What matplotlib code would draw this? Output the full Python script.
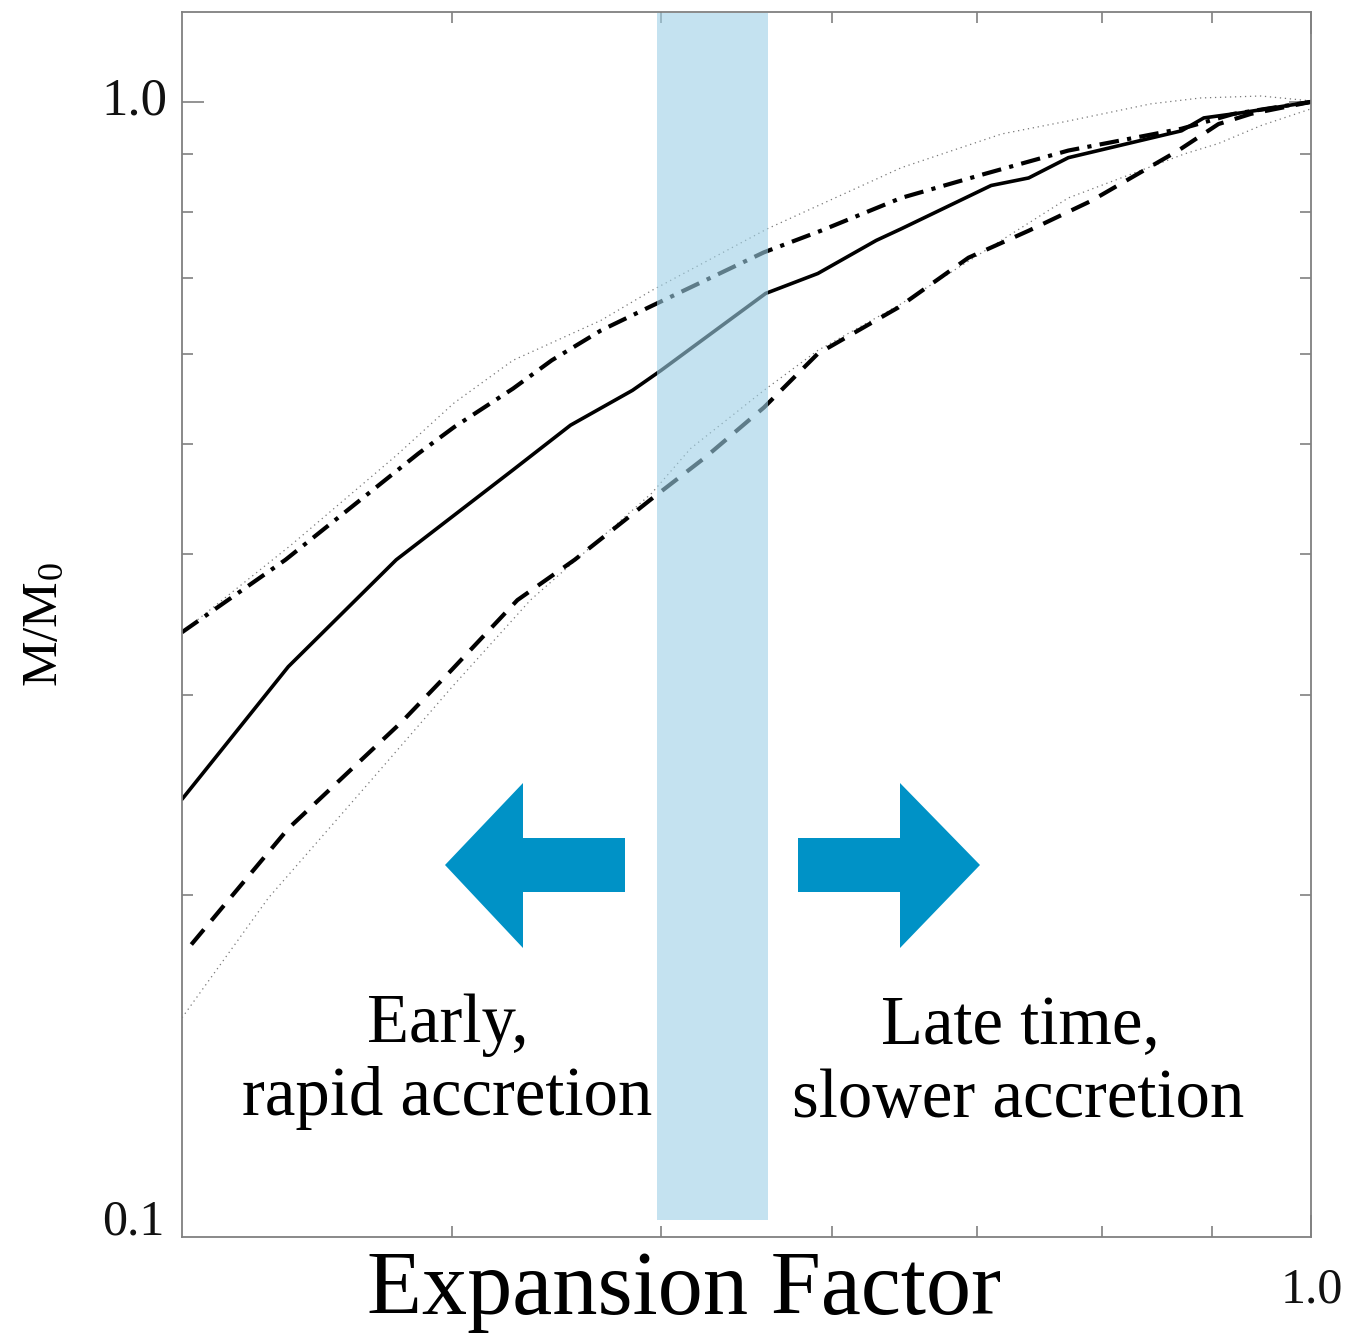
import numpy as np
import matplotlib
matplotlib.use("Agg")
import matplotlib.pyplot as plt
from matplotlib.patches import Polygon, Rectangle
from matplotlib.ticker import FixedLocator, NullFormatter

plt.rcParams['font.family'] = ['Liberation Serif', 'DejaVu Serif']
plt.rcParams['mathtext.fontset'] = 'custom'
plt.rcParams['mathtext.rm'] = 'Liberation Serif'
plt.rcParams['mathtext.it'] = 'Liberation Serif:italic'

# ---- data (expansion factor a, M/M0) ----
solid_a = [0.300, 0.336, 0.377, 0.427, 0.454, 0.485, 0.500, 0.559, 0.591, 0.629, 0.646,
           0.711, 0.740, 0.772, 0.871, 0.892, 0.928, 1.000]
solid_m = [0.243, 0.318, 0.395, 0.474, 0.519, 0.557, 0.580, 0.678, 0.706, 0.755, 0.773,
           0.844, 0.857, 0.893, 0.943, 0.968, 0.978, 1.000]

dashdot_a = [0.300, 0.335, 0.386, 0.401, 0.427, 0.445, 0.469, 0.495, 0.558, 0.593, 0.646,
             0.706, 0.772, 0.871, 0.921, 1.000]
dashdot_m = [0.341, 0.395, 0.490, 0.517, 0.559, 0.592, 0.629, 0.661, 0.737, 0.770, 0.823,
             0.864, 0.906, 0.947, 0.976, 1.000]

dashed_a = [0.303, 0.336, 0.379, 0.400, 0.429, 0.456, 0.481, 0.495, 0.524, 0.558, 0.591,
            0.644, 0.694, 0.740, 0.791, 0.868, 0.906, 0.938, 1.000]
dashed_m = [0.181, 0.229, 0.284, 0.316, 0.364, 0.395, 0.428, 0.447, 0.486, 0.538, 0.600,
            0.659, 0.729, 0.770, 0.818, 0.906, 0.956, 0.976, 1.000]

upper_a = [0.300, 0.337, 0.377, 0.401, 0.427, 0.469, 0.495, 0.560, 0.646, 0.719, 0.772,
           0.843, 0.889, 0.948, 1.000]
upper_m = [0.341, 0.407, 0.488, 0.543, 0.592, 0.642, 0.682, 0.773, 0.875, 0.937, 0.962,
           0.996, 1.008, 1.012, 1.002]

lower_a = [0.300, 0.329, 0.366, 0.400, 0.435, 0.495, 0.516, 0.558, 0.591, 0.646, 0.772,
           0.874, 0.906, 0.948, 1.000]
lower_m = [0.156, 0.199, 0.251, 0.305, 0.364, 0.452, 0.495, 0.557, 0.604, 0.664, 0.823,
           0.900, 0.919, 0.953, 0.986]

x_minor_ticks = [0.4, 0.5, 0.6, 0.7, 0.8, 0.9]
y_minor_ticks = [0.2, 0.3, 0.4, 0.5, 0.6, 0.7, 0.8, 0.9]

W, H = 1349, 1337
fig = plt.figure(figsize=(W / 100, H / 100), dpi=100)
ax = fig.add_axes([182 / W, 1 - 1237 / H, 1129 / W, 1225 / H])
ax.set_xscale('log')
ax.set_yscale('log')
ax.set_xlim(0.3, 1.0)
ax.set_ylim(0.1, 1.2)

ax.plot(upper_a, upper_m, color='#777777', lw=0.9, ls=(0, (1, 3)))
ax.plot(lower_a, lower_m, color='#777777', lw=0.9, ls=(0, (1, 3)))
ax.plot(solid_a, solid_m, color='black', lw=2.6, solid_capstyle='round')
ax.plot(dashdot_a, dashdot_m, color='black', lw=3.0, ls=(0, (4.7, 2, 1, 2)))
ax.plot(dashed_a, dashed_m, color='black', lw=3.0, ls=(0, (4.7, 2.8)))

gray = '#808080'
for s in ax.spines.values():
    s.set_color(gray)
    s.set_linewidth(1.3)

ax.xaxis.set_major_locator(FixedLocator([1.0]))
ax.xaxis.set_minor_locator(FixedLocator(x_minor_ticks))
ax.yaxis.set_major_locator(FixedLocator([1.0]))
ax.yaxis.set_minor_locator(FixedLocator(y_minor_ticks))
ax.xaxis.set_major_formatter(NullFormatter())
ax.xaxis.set_minor_formatter(NullFormatter())
ax.yaxis.set_major_formatter(NullFormatter())
ax.yaxis.set_minor_formatter(NullFormatter())
ax.tick_params(which='both', direction='in', top=True, right=True, color=gray, width=1.2)
ax.tick_params(which='major', length=16)
ax.tick_params(which='minor', length=8)

# tick labels
ax.text(-0.013, 1.0, '1.0', transform=ax.get_yaxis_transform(), ha='right', va='center',
        fontsize=38, color='#111111')
fig.text(164 / W, 1 - 1222 / H, '0.1', ha='right', va='center', fontsize=36, color='#111111')
fig.text(1312 / W, 1 - 1290 / H, '1.0', ha='center', va='center', fontsize=36, color='#111111')

# axis titles
fig.text(684 / W, 1 - 1292 / H, 'Expansion Factor', ha='center', va='center', fontsize=65)
fig.text(45 / W, 1 - 625 / H, r'M/M$_0$', ha='center', va='center', rotation=90, fontsize=37)

# highlighted transition band (on top of the curves)
band = Rectangle((657 / W, 1 - 1220 / H), 111 / W, 1207 / H, transform=fig.transFigure,
                 facecolor=(158 / 255, 208 / 255, 230 / 255), alpha=0.6, edgecolor='none', zorder=5)
fig.patches.append(band)

blue = '#0092c6'
def fpoly(pts):
    return Polygon([(px / W, 1 - py / H) for px, py in pts], closed=True, transform=fig.transFigure,
                   facecolor=blue, edgecolor='none', zorder=6)

left_arrow = [(445, 865), (523, 783), (523, 838), (625, 838), (625, 892), (523, 892), (523, 948)]
right_arrow = [(980, 865), (900, 783), (900, 838), (798, 838), (798, 892), (900, 892), (900, 948)]
fig.patches.append(fpoly(left_arrow))
fig.patches.append(fpoly(right_arrow))

fig.text(448 / W, 1 - 1025 / H, 'Early,', ha='center', va='center', fontsize=49.5)
fig.text(447 / W, 1 - 1098 / H, 'rapid accretion', ha='center', va='center', fontsize=49.5)
fig.text(1020 / W, 1 - 1027 / H, 'Late time,', ha='center', va='center', fontsize=49.5)
fig.text(1018 / W, 1 - 1100 / H, 'slower accretion', ha='center', va='center', fontsize=49.5)

fig.savefig('out.png', dpi=100)
